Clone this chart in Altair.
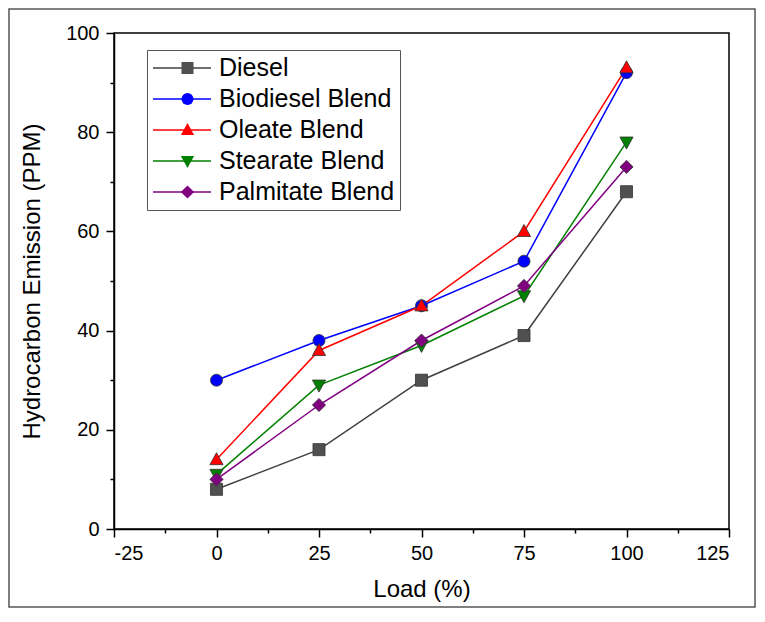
import altair as alt
import pandas as pd

loads = [0, 25, 50, 75, 100]
series_names = ["Diesel", "Biodiesel Blend", "Oleate Blend", "Stearate Blend", "Palmitate Blend"]
diesel = [8, 16, 30, 39, 68]
biodiesel = [30, 38, 45, 54, 92]
oleate = [14, 36, 45, 60, 93]
stearate = [11, 29, 37, 47, 78]
palmitate = [10, 25, 38, 49, 73]

line_colors = ["#404040", "#0000ff", "#ff0000", "#008000", "#800080"]
fill_colors = ["#505050", "#0000ff", "#ff0000", "#008000", "#800080"]
shapes = ["square", "circle",
          "M0,-1.15L1.1,0.85L-1.1,0.85Z",
          "M0,1.15L1.1,-0.85L-1.1,-0.85Z",
          "M0,-1.1L1.1,0L0,1.1L-1.1,0Z"]

x_major = [-25, 0, 25, 50, 75, 100, 125]
x_minor = [-12.5, 12.5, 37.5, 62.5, 87.5, 112.5]
y_major = [0, 20, 40, 60, 80, 100]
y_minor = [10, 30, 50, 70, 90]

rows = []
for i, (name, vals) in enumerate(zip(series_names, [diesel, biodiesel, oleate, stearate, palmitate])):
    for l, v in zip(loads, vals):
        rows.append({"series": name, "line_series": name, "idx": i, "load": l, "hc": v})
df = pd.DataFrame(rows)

FONT = "Liberation Sans"
W, H = 615, 496
PAD = {"left": 106, "top": 25, "right": 27, "bottom": 79}
MSIZE = 145

xscale = alt.Scale(domain=[-25, 125], nice=False, zero=False)
yscale = alt.Scale(domain=[0, 100], nice=False)

common_axis = dict(domainColor="black", domainWidth=1.5, tickColor="black", tickWidth=1.5,
                   labelFont=FONT, labelFontSize=20, labelColor="black", grid=False,
                   titleFont=FONT, titleFontSize=24, titleFontWeight="normal", titleColor="black")

legend_common = dict(title=None, orient="none", legendX=33, legendY=17, padding=5,
                     clipHeight=26, rowPadding=5, labelFont=FONT, labelFontSize=25,
                     labelOffset=7, labelLimit=400, labelColor="black")

lines = alt.Chart(df).mark_line(strokeWidth=1.5).encode(
    x=alt.X("load:Q", scale=xscale,
            axis=alt.Axis(values=x_major, title="Load (%)", tickSize=8, labelPadding=6,
                          labelExpr="datum.value < 0 ? '-' + abs(datum.value) : datum.label",
                          titlePadding=14, orient="bottom", **common_axis)),
    y=alt.Y("hc:Q", scale=yscale,
            axis=alt.Axis(values=y_major, title="Hydrocarbon Emission (PPM)", tickSize=8,
                          labelPadding=7, titlePadding=21, orient="left", **common_axis)),
    stroke=alt.Stroke("line_series:N",
                      sort=alt.EncodingSortField(field="idx", op="min"),
                      scale=alt.Scale(range=line_colors),
                      legend=alt.Legend(symbolType="stroke", symbolSize=3364, symbolStrokeWidth=1.5,
                                        strokeColor="#555", fillColor="white", **legend_common)),
    order=alt.Order("load:Q"),
)

point_legend = dict(symbolSize=MSIZE, symbolStrokeColor="#333", symbolStrokeWidth=0.8,
                    symbolOffset=23, labelExpr="''", **legend_common)

points = alt.Chart(df).mark_point(filled=True, size=MSIZE, opacity=1).encode(
    x=alt.X("load:Q", scale=xscale,
            axis=alt.Axis(values=x_minor, labels=False, domain=False, title=None, tickSize=4,
                          tickColor="black", tickWidth=1.5, grid=False, orient="bottom")),
    y=alt.Y("hc:Q", scale=yscale,
            axis=alt.Axis(values=y_minor, labels=False, domain=False, title=None, tickSize=4,
                          tickColor="black", tickWidth=1.5, grid=False, orient="left")),
    fill=alt.Fill("series:N", scale=alt.Scale(domain=series_names, range=fill_colors),
                  legend=alt.Legend(**point_legend)),
    shape=alt.Shape("series:N", scale=alt.Scale(domain=series_names, range=shapes),
                    legend=alt.Legend(**point_legend)),
    stroke=alt.value("#333"),
    strokeWidth=alt.value(0.8),
)

frame = alt.Chart(pd.DataFrame({"a": [0]})).mark_rect(fillOpacity=0, stroke="#555", strokeWidth=1.5).encode(
    x=alt.value(-105), x2=alt.value(W + PAD["right"] - 1),
    y=alt.value(-24), y2=alt.value(H + PAD["bottom"] - 1),
)

chart = alt.layer(frame, lines, points).resolve_axis(x="independent", y="independent").properties(
    width=W, height=H, autosize=alt.AutoSizeParams(type="none"), padding=PAD, background="white"
).configure_view(stroke="black", strokeWidth=1.5)

chart.save("out.html", embed_options={"renderer": "svg", "actions": False})
